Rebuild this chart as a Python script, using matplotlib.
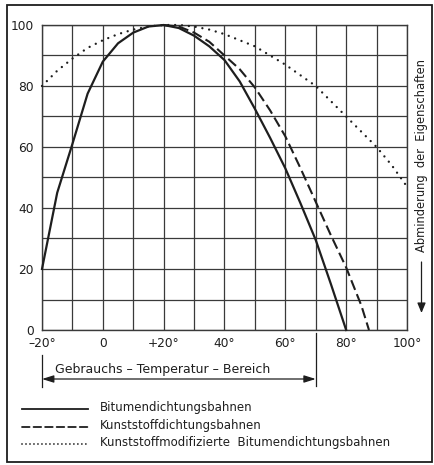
"""Abminderung der Eigenschaften von Dichtungsbahnen über der Temperatur."""
import matplotlib
matplotlib.use("Agg")
import matplotlib.pyplot as plt
from matplotlib.lines import Line2D
from matplotlib.patches import Rectangle, FancyArrowPatch
from matplotlib.transforms import blended_transform_factory

INK = "#1e1e1e"
GRID = "#3a3a3a"
W, H = 435, 465

# values (temperature in °C, properties in %)
temps_bitumen = [-20, -15, -10, -5, 0, 5, 10, 15, 20, 25, 30, 35, 40, 45, 50,
                 55, 60, 65, 70, 75, 80]
bitumen = [20, 45, 61, 77.5, 88, 94, 97.5, 99.5, 100, 99, 96.5, 93, 88.5, 81.5,
           72.5, 63, 53, 41.5, 29.5, 15, 0]

temps_kunststoff = [20, 25, 30, 35, 40, 45, 50, 55, 60, 65, 70, 75, 80, 85, 87.5]
kunststoff = [100, 99.5, 97.5, 94.5, 90, 85.5, 79.5, 72, 63.5, 53, 42, 31,
              20.5, 8, 0]

temps_modifiziert = [-20, -15, -10, -5, 0, 5, 10, 15, 20, 25, 30, 35, 40, 45,
                     50, 55, 60, 65, 70, 75, 80, 85, 90, 95, 100]
modifiziert = [80, 85, 89, 92.5, 95, 97, 98.5, 99.5, 100, 100, 99.5, 98.5, 97,
               95, 93, 90, 87, 83.5, 80, 75, 70, 65, 60, 54, 47]

x_ticks = [-20, -10, 0, 10, 20, 30, 40, 50, 60, 70, 80, 90, 100]
x_labels = ["–20°", "", "0", "", "+20°", "", "40°", "", "60°", "", "80°", "", "100°"]
y_ticks = [0, 10, 20, 30, 40, 50, 60, 70, 80, 90, 100]
y_labels = ["0", "", "20", "", "40", "", "60", "", "80", "", "100"]

legend_labels = ["Bitumendichtungsbahnen", "Kunststoffdichtungsbahnen",
                 "Kunststoffmodifizierte  Bitumendichtungsbahnen"]

DASHED = (0, (5.0, 2.2))
DOTTED = (0, (0.01, 2.9))


def fx(px):
    return px / W


def fy(py):
    return 1 - py / H


plt.rcParams["font.family"] = "DejaVu Sans"
fig = plt.figure(figsize=(W / 100, H / 100), dpi=100, facecolor="white")

ax = fig.add_axes([fx(42), fy(330), fx(407) - fx(42), fy(25) - fy(330)])
ax.set_xlim(-20, 100)
ax.set_ylim(0, 100)
ax.set_xticks(x_ticks)
ax.set_xticklabels(x_labels)
ax.set_yticks(y_ticks)
ax.set_yticklabels(y_labels)
ax.tick_params(length=0, labelsize=8.8, colors=INK)
ax.tick_params(axis="x", pad=5)
ax.tick_params(axis="y", pad=6)
ax.grid(True, color=GRID, linewidth=0.9)
for sp in ax.spines.values():
    sp.set_color(GRID)
    sp.set_linewidth(1.0)

ax.plot(temps_modifiziert, modifiziert, color=INK, lw=1.7, ls=DOTTED,
        dash_capstyle="round", clip_on=False, zorder=3)
ax.plot(temps_kunststoff, kunststoff, color=INK, lw=1.5, ls=DASHED,
        clip_on=False, zorder=3)
ax.plot(temps_bitumen, bitumen, color=INK, lw=1.6, clip_on=False, zorder=4)

# outer frame
fig.add_artist(Rectangle((fx(7), fy(462)), fx(432) - fx(7), fy(5) - fy(462),
                         transform=fig.transFigure, fill=False,
                         edgecolor=INK, linewidth=1.3))

# usage range arrow below the x axis
trans = blended_transform_factory(ax.transData, fig.transFigure)
ax.annotate("", xy=(-20, fy(379)), xytext=(70, fy(379)),
            xycoords=trans, textcoords=trans, annotation_clip=False,
            arrowprops=dict(arrowstyle="<|-|>,head_length=0.7,head_width=0.22",
                            color=INK, lw=0.9, shrinkA=0, shrinkB=0))
fig.add_artist(Line2D([-20, -20], [fy(355), fy(387)], transform=trans,
                      color=INK, lw=0.9))
fig.add_artist(Line2D([70, 70], [fy(333), fy(386)], transform=trans,
                      color=INK, lw=0.9))
fig.text(fx(55), fy(370), "Gebrauchs – Temperatur – Bereich", fontsize=9,
         color=INK, ha="left", va="center")

# right-hand label with downward arrow
fig.text(fx(421.5), fy(156), "Abminderung  der  Eigenschaften", rotation=90,
         fontsize=8.3, color=INK, ha="center", va="center")
fig.add_artist(FancyArrowPatch(
    (fx(421.5), fy(262)), (fx(421.5), fy(313)), transform=fig.transFigure,
    arrowstyle="-|>,head_length=0.6,head_width=0.25", mutation_scale=10,
    color=INK, lw=0.9, shrinkA=0, shrinkB=0))

# legend
for y, ls, lab in zip([409, 427, 444], ["-", (0, (4.2, 2.2)), (0, (0.01, 2.2))],
                      legend_labels):
    fig.add_artist(Line2D([fx(22), fx(88)], [fy(y), fy(y)],
                          transform=fig.transFigure, color=INK, lw=1.3,
                          ls=ls, dash_capstyle="round" if ls != "-" else "butt"))
    fig.text(fx(100), fy(y - 1.5), lab, fontsize=8.5, color=INK,
             ha="left", va="center")

fig.savefig("out.png", dpi=100, facecolor="white")
